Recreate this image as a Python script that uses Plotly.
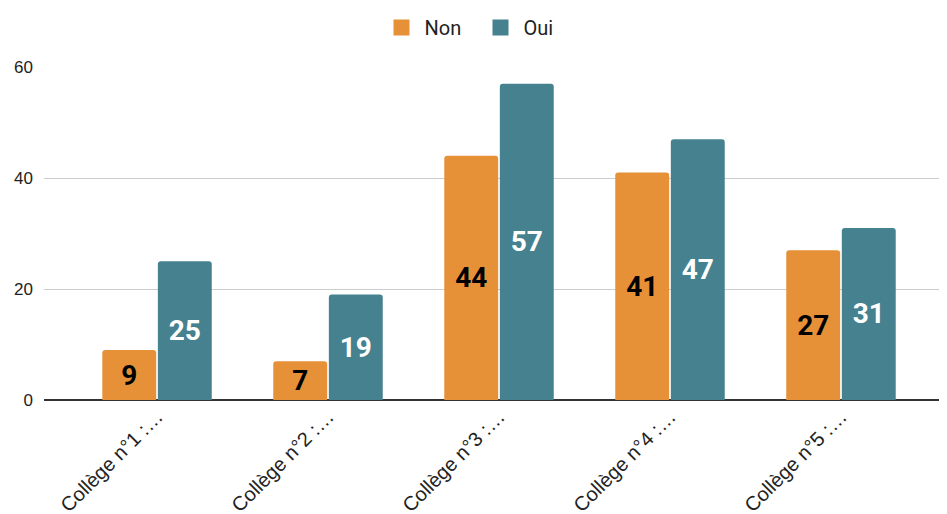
import plotly.graph_objects as go

categories = ["Collège n°1 :…", "Collège n°2 :…", "Collège n°3 :…", "Collège n°4 :…", "Collège n°5 :…"]
non_values = [9, 7, 44, 41, 27]
oui_values = [25, 19, 57, 47, 31]
y_ticks = [0, 20, 40, 60]
series_names = ["Non", "Oui"]
series_colors = ["#e69138", "#45818e"]

fig = go.Figure()
for name, vals, col, tcol in zip(series_names, [non_values, oui_values], series_colors, ["#000000", "#ffffff"]):
    fig.add_trace(go.Bar(
        name=name, x=categories, y=vals, marker_color=col, showlegend=False,
        text=[str(v) for v in vals], textposition="inside", insidetextanchor="middle",
        textangle=0, constraintext="none",
        textfont=dict(family="Roboto", size=28, color=tcol, weight="bold"),
        marker_line_width=0,
    ))
# legend entries
for name, col in zip(series_names, series_colors):
    fig.add_trace(go.Scatter(
        name=name, x=[None], y=[None], mode="markers",
        marker=dict(symbol="square", size=20, color=col), showlegend=True,
    ))

fig.update_layout(
    width=939, height=506,
    margin=dict(l=36, r=0, t=59, b=114, autoexpand=False),
    paper_bgcolor="white", plot_bgcolor="white",
    barmode="group", bargap=0.35, bargroupgap=0.03, barcornerradius=3,
    uniformtext=dict(mode="show", minsize=28),
    font=dict(family="Liberation Sans, Arial", size=17, color="#222222"),
    legend=dict(orientation="h", x=0.5, xanchor="center", xref="container",
                y=1.0, yanchor="top", yref="container",
                font=dict(family="Roboto", size=20, color="#222222"),
                itemsizing="trace", itemwidth=36, traceorder="normal",
                entrywidth=48, entrywidthmode="pixels"),
    showlegend=True,
    xaxis=dict(range=[-0.661, 4.62], tickangle=-45, showgrid=False, ticks="",
               tickfont=dict(size=20, color="#222222"), automargin=False, showline=False),
    yaxis=dict(range=[0, 60], tickvals=y_ticks, showgrid=True, gridcolor="#cccccc", gridwidth=1,
               zeroline=True, zerolinecolor="#333333", zerolinewidth=1.5,
               tickfont=dict(size=17, color="#222222"), ticklabelstandoff=10, automargin=False),
)

fig.write_html("out.html")
